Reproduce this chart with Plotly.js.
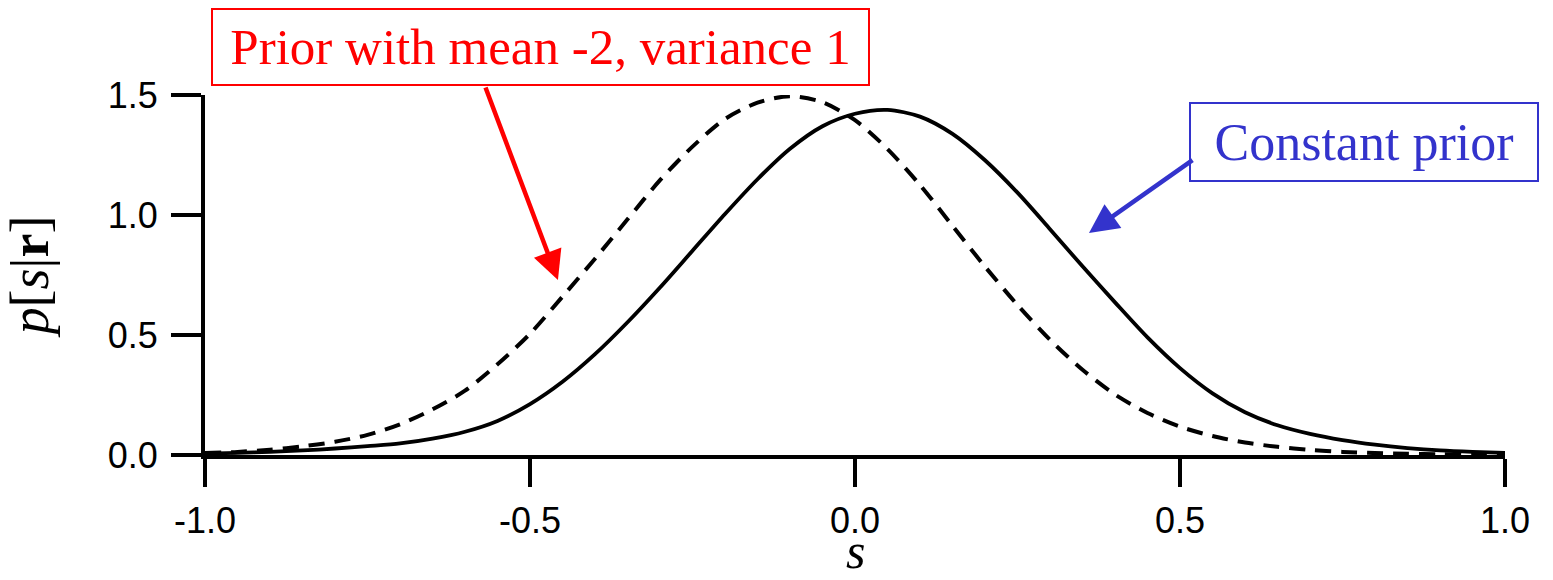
<!DOCTYPE html>
<html>
<head>
<meta charset="utf-8">
<script src="https://cdn.plot.ly/plotly-3.0.1.min.js"></script>
<style>
  html, body { margin: 0; padding: 0; background: #ffffff; }
  #plot { width: 1553px; height: 580px; }
</style>
</head>
<body>
<div id="plot"></div>
<script>
// Stimulus values s
const sValues = [
  -1.00, -0.95, -0.90, -0.85, -0.80, -0.75, -0.70, -0.65, -0.60, -0.55,
  -0.50, -0.45, -0.40, -0.35, -0.30, -0.25, -0.20, -0.15, -0.10, -0.05,
   0.00,  0.05,  0.10,  0.15,  0.20,  0.25,  0.30,  0.35,  0.40,  0.45,
   0.50,  0.55,  0.60,  0.65,  0.70,  0.75,  0.80,  0.85,  0.90,  0.95,
   1.00
];

// Posterior p[s|r] with a constant prior (solid)
const constantPrior = [
  0.006, 0.009, 0.013, 0.019, 0.027, 0.037, 0.048, 0.068, 0.097, 0.142,
  0.212, 0.305, 0.420, 0.553, 0.698, 0.851, 1.004, 1.149, 1.276, 1.370,
  1.422, 1.438, 1.410, 1.338, 1.228, 1.093, 0.941, 0.786, 0.636, 0.490,
  0.362, 0.257, 0.178, 0.124, 0.088, 0.062, 0.043, 0.029, 0.019, 0.013,
  0.009
];

// Posterior p[s|r] with a Gaussian prior, mean -2, variance 1 (dashed)
const gaussianPrior = [
  0.008, 0.013, 0.022, 0.036, 0.055, 0.084, 0.128, 0.190, 0.268, 0.378,
  0.505, 0.660, 0.818, 0.982, 1.145, 1.285, 1.400, 1.468, 1.495, 1.470,
  1.395, 1.275, 1.125, 0.955, 0.785, 0.625, 0.480, 0.355, 0.252, 0.175,
  0.118, 0.079, 0.052, 0.034, 0.021, 0.013, 0.008, 0.005, 0.003, 0.002,
  0.001
];

const xTicks = [-1.0, -0.5, 0.0, 0.5, 1.0];
const xTickText = ['-1.0', '-0.5', '0.0', '0.5', '1.0'];
const yTicks = [0.0, 0.5, 1.0, 1.5];
const yTickText = ['0.0', '0.5', '1.0', '1.5'];

const xTitle = '<i>s</i>';
const yTitle = '<i>p</i>[<i>s</i>|<b>r</b>]';
const priorLabel = 'Prior with mean -2, variance 1';
const constantLabel = 'Constant prior';

const traces = [
  {
    x: sValues, y: gaussianPrior, type: 'scatter', mode: 'lines',
    line: { color: '#000000', width: 4, dash: '16px,10px', shape: 'spline', smoothing: 0.8 },
    hoverinfo: 'skip'
  },
  {
    x: sValues, y: constantPrior, type: 'scatter', mode: 'lines',
    line: { color: '#000000', width: 3.8, shape: 'spline', smoothing: 0.8 },
    hoverinfo: 'skip'
  }
];

const tickFont = { family: 'Liberation Sans, Arial, sans-serif', size: 36, color: '#000000' };
const serif = 'Liberation Serif, Times New Roman, serif';
const red = '#ff0000';
const blue = '#3333cc';

const layout = {
  width: 1553, height: 580,
  margin: { l: 205, r: 48, t: 95, b: 125, pad: 0 },
  paper_bgcolor: '#ffffff', plot_bgcolor: '#ffffff',
  showlegend: false,
  xaxis: {
    range: [-1, 1], tickvals: xTicks, ticktext: xTickText,
    showgrid: false, zeroline: false, showline: true,
    linecolor: '#000000', linewidth: 4,
    ticks: 'outside', ticklen: 28, tickwidth: 4, tickcolor: '#000000',
    tickfont: tickFont, ticklabelstandoff: 3,
    automargin: false
  },
  yaxis: {
    range: [0, 1.5], tickvals: yTicks, ticktext: yTickText,
    showgrid: false, zeroline: false, showline: true,
    linecolor: '#000000', linewidth: 4,
    ticks: 'outside', ticklen: 30, tickwidth: 4, tickcolor: '#000000',
    tickfont: tickFont, ticklabelstandoff: 6,
    title: { text: yTitle, font: { family: serif, size: 54, color: '#000000' }, standoff: 44 },
    automargin: false
  },
  annotations: [
    {
      // x-axis title, sitting at the bottom edge of the figure
      xref: 'paper', yref: 'paper', x: 0.5, y: -0.3472,
      xanchor: 'center', yanchor: 'bottom',
      text: xTitle, showarrow: false, borderpad: 0,
      font: { family: serif, size: 50, color: '#000000' }
    },
    {
      xref: 'paper', yref: 'paper', x: 0.258, y: 1.1333,
      xanchor: 'center', yanchor: 'middle',
      text: priorLabel, showarrow: false,
      font: { family: serif, size: 51, color: red },
      bordercolor: red, borderwidth: 2, borderpad: 2,
      bgcolor: '#ffffff', width: 651, height: 70
    },
    {
      xref: 'paper', yref: 'paper', x: 0.8915, y: 0.8694,
      xanchor: 'center', yanchor: 'middle',
      text: constantLabel, showarrow: false,
      font: { family: serif, size: 52, color: blue },
      bordercolor: blue, borderwidth: 2, borderpad: 2,
      bgcolor: '#ffffff', width: 342, height: 72
    },
    {
      xref: 'x', yref: 'y', x: -0.457, y: 0.729,
      ax: -73, ay: -194, text: '', showarrow: true,
      arrowcolor: red, arrowwidth: 4.5, arrowhead: 2, arrowsize: 1.3, standoff: 0
    },
    {
      xref: 'x', yref: 'y', x: 0.36, y: 0.925,
      ax: 105, ay: -74, text: '', showarrow: true,
      arrowcolor: blue, arrowwidth: 4.5, arrowhead: 2, arrowsize: 1.3, standoff: 0
    }
  ]
};

Plotly.newPlot('plot', traces, layout, { staticPlot: true, displayModeBar: false });
</script>
</body>
</html>
